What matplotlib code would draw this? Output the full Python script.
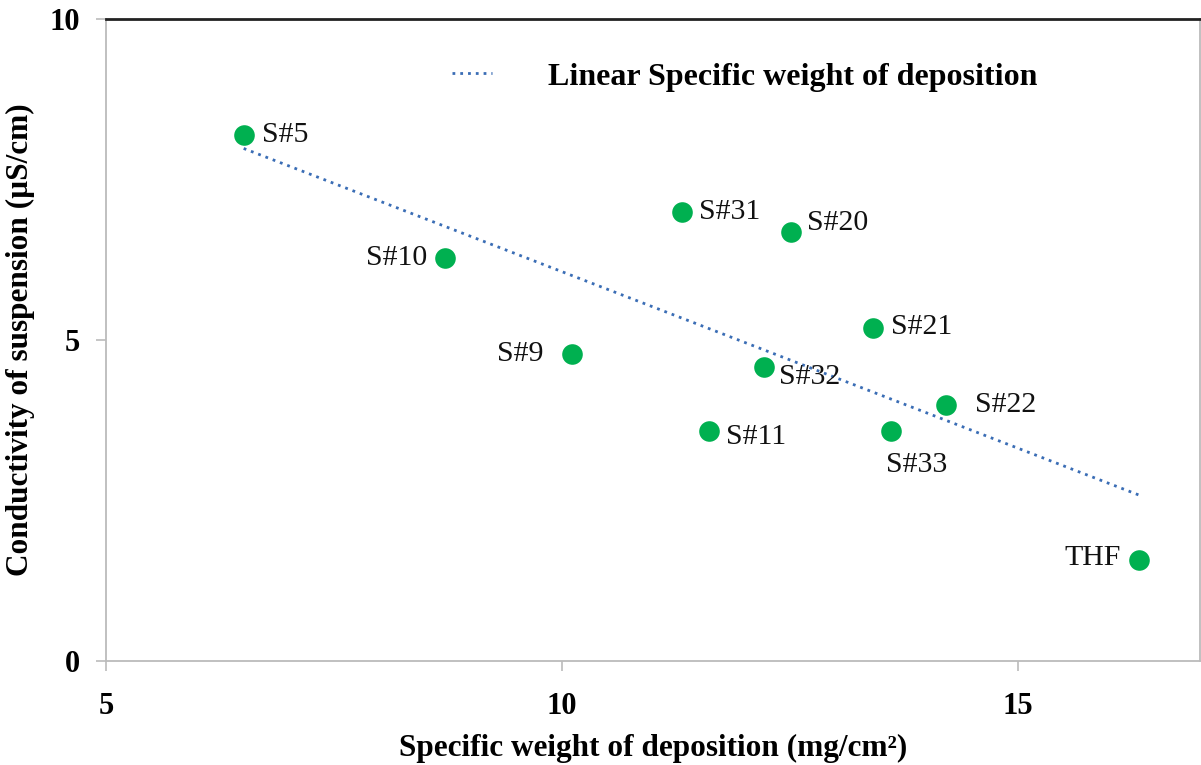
import numpy as np
import matplotlib.pyplot as plt

# data
labels = ["S#5", "S#10", "S#9", "S#31", "S#20", "S#21", "S#32", "S#11", "S#22", "S#33", "THF"]
weight = [6.51, 8.72, 10.11, 11.32, 12.51, 13.42, 12.22, 11.62, 14.22, 13.61, 16.33]
conductivity = [8.19, 6.28, 4.78, 6.99, 6.68, 5.19, 4.58, 3.58, 3.99, 3.58, 1.57]

# label offsets in pixels (dx, dy, ha)
offsets = {
    "S#5": (18, 0, "left"), "S#10": (-18, 0, "right"), "S#9": (-28, 0, "right"),
    "S#31": (17, 0, "left"), "S#20": (16, 9, "left"), "S#21": (18, 1, "left"),
    "S#32": (15, -10, "left"), "S#11": (17, -6, "left"), "S#22": (29, 0, "left"),
    "S#33": (26, -34, "center"), "THF": (-18, 2, "right"),
}

plt.rcParams['font.family'] = ['Liberation Serif', 'DejaVu Serif']

fig = plt.figure(figsize=(12.01, 7.65), dpi=100)
ax = fig.add_axes([0.0883, 0.136, 0.9107, 0.839])

x = np.array(weight)
y = np.array(conductivity)
slope, intercept = np.polyfit(x, y, 1)
xs = np.array([x.min(), x.max()])
ax.plot(xs, slope * xs + intercept, linestyle=(0, (1, 1.8)), color='#3a6db5', lw=2.0,
        label='Linear Specific weight of deposition', zorder=2)

ax.scatter(x, y, s=220, color='#00b050', zorder=3, linewidths=0)

for name, xi, yi in zip(labels, weight, conductivity):
    dx, dy, ha = offsets[name]
    ax.annotate(name, (xi, yi), xytext=(dx, dy), textcoords='offset pixels',
                ha=ha, va='center', fontsize=21.5, color='#111111')

ax.set_xlim(5, 17)
ax.set_ylim(0, 10)
ax.set_xticks([5, 10, 15])
ax.set_yticks([0, 5, 10])
for lab in ax.get_xticklabels() + ax.get_yticklabels():
    lab.set_fontweight('bold')
ax.tick_params(axis='both', labelsize=22, color='#bbbbbb', length=7, width=1.2, direction='out')
ax.tick_params(axis='x', pad=15)
ax.tick_params(axis='y', pad=12)

for side in ['left', 'bottom', 'right']:
    ax.spines[side].set_color('#bbbbbb')
    ax.spines[side].set_linewidth(1.3)
ax.spines['top'].set_color('#222222')
ax.spines['top'].set_linewidth(2)

ax.set_xlabel('Specific weight of deposition (mg/cm²)', fontsize=22.5,
              fontweight='bold', labelpad=10)
ax.set_ylabel('Conductivity of suspension (µS/cm)', fontsize=22.5, fontweight='bold', labelpad=10)

leg = ax.legend(loc='center left', bbox_to_anchor=(0.316, 0.91), frameon=False,
                prop={'size': 23, 'weight': 'bold'}, handlelength=1.25, handletextpad=1.75,
                borderpad=0, borderaxespad=0)

fig.savefig('out.png', dpi=100)
